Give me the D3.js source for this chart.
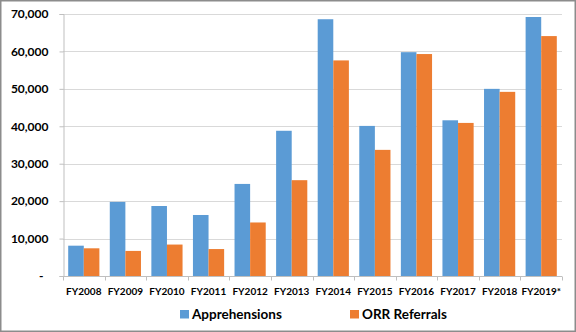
<!DOCTYPE html>
<html><head><meta charset="utf-8">
<script src="https://cdn.jsdelivr.net/npm/d3@7"></script>
<style>body{margin:0;background:#fff}svg{display:block}</style>
</head><body><svg id="c" width="576" height="332"></svg>
<script>
const categories = ["FY2008","FY2009","FY2010","FY2011","FY2012","FY2013","FY2014","FY2015","FY2016","FY2017","FY2018","FY2019*"];
const apprehensions = [8100,19800,18700,16300,24600,38800,68600,40100,59800,41600,50000,69200];
const orrReferrals = [7400,6700,8400,7200,14300,25600,57600,33700,59300,40900,49200,64100];
const seriesNames = ["Apprehensions","ORR Referrals"];
const yTicks = [0,10000,20000,30000,40000,50000,60000,70000];
const colors = ["#5B9BD5","#ED7D31"];

const svg = d3.select("#c");
const m = {l:63, r:562, t:14, b:276};
svg.append("rect").attr("x",0.75).attr("y",0.75).attr("width",574.5).attr("height",330.5)
  .attr("fill","#fff").attr("stroke","#8c8c8c").attr("stroke-width",1.5);

const x = d3.scaleBand().domain(categories).range([m.l,m.r]).paddingInner(0.25).paddingOuter(0.125);
const xs = d3.scaleBand().domain(seriesNames).range([0,x.bandwidth()]);
const y = d3.scaleLinear().domain([0,70000]).range([m.b,m.t]);

// gridlines
svg.append("g").selectAll("line").data(yTicks.slice(1)).join("line")
  .attr("x1",m.l).attr("x2",m.r).attr("y1",d=>Math.round(y(d))+0.5).attr("y2",d=>Math.round(y(d))+0.5)
  .attr("stroke","#d9d9d9").attr("stroke-width",1);

// bars
const data = categories.map((c,i)=>({c, v:[apprehensions[i],orrReferrals[i]]}));
const g = svg.append("g");
data.forEach(d=>{
  seriesNames.forEach((s,j)=>{
    g.append("rect").attr("x",x(d.c)+xs(s)).attr("width",xs.bandwidth())
      .attr("y",y(d.v[j])).attr("height",y(0)-y(d.v[j])).attr("fill",colors[j]);
  });
});

// y axis
const ya = d3.axisLeft(y).tickValues(yTicks).tickSize(4).tickFormat(d=>d===0?"-":d3.format(",")(d));
const yg = svg.append("g").attr("transform",`translate(${m.l+0.5},0)`).call(ya);
yg.select(".domain").attr("stroke","#bfbfbf");
yg.selectAll(".tick line").attr("stroke","#bfbfbf");
yg.selectAll("text").attr("x",-15).attr("fill","#000")
  .style("font-family","Lato, 'Open Sans', sans-serif").style("font-size","12px").style("font-weight","bold");
yg.selectAll(".tick").filter(d=>d===0).select("text").attr("x",-20);

// x axis
const xg = svg.append("g").attr("transform",`translate(0,${m.b+0.5})`);
xg.append("line").attr("x1",m.l).attr("x2",m.r).attr("stroke","#bfbfbf");
const step = x.step();
const bounds = d3.range(categories.length+1).map(i=>m.l+i*(m.r-m.l)/categories.length);
xg.selectAll("line.t").data(bounds).join("line").attr("class","t")
  .attr("x1",d=>Math.round(d)+0.5).attr("x2",d=>Math.round(d)+0.5).attr("y1",0).attr("y2",4).attr("stroke","#bfbfbf");
const xa = d3.axisBottom(x).tickSize(0).tickPadding(12);
const xg2 = svg.append("g").attr("transform",`translate(0,${m.b})`).call(xa);
xg2.select(".domain").remove();
xg2.selectAll("text").attr("fill","#000")
  .style("font-family","Lato, 'Open Sans', sans-serif").style("font-size","10px").style("font-weight","bold");

// legend
const leg = [{n:seriesNames[0],x:180},{n:seriesNames[1],x:350}];
leg.forEach((d,i)=>{
  svg.append("rect").attr("x",d.x).attr("y",310).attr("width",9).attr("height",8.5).attr("fill",colors[i]);
  svg.append("text").attr("x",d.x+12).attr("y",318.5).text(d.n).attr("fill","#000")
    .style("font-family","Lato, 'Open Sans', sans-serif").style("font-size","13.5px").style("font-weight","bold");
});
</script></body></html>
